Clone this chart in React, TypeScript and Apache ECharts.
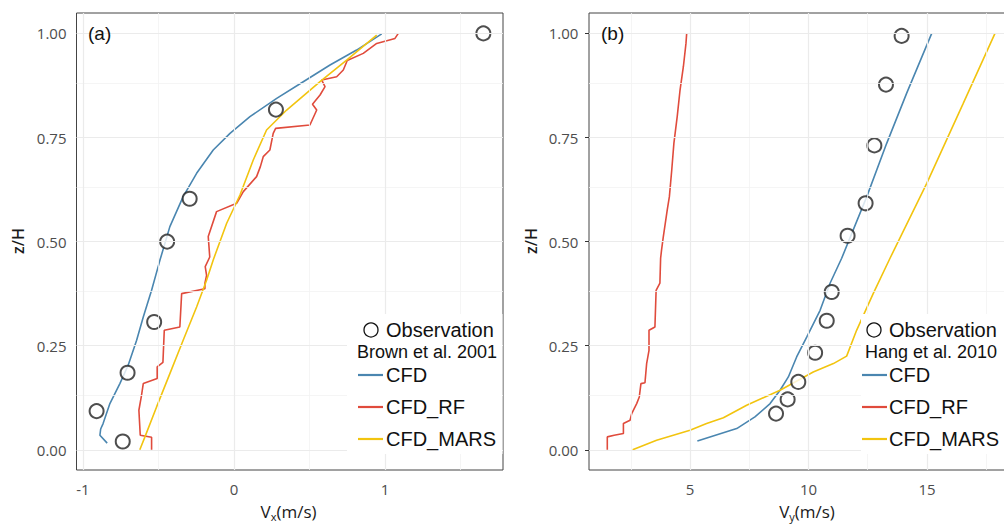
import React, { useEffect, useRef } from 'react';
import * as echarts from 'echarts';

// ---------- Panel (a): Vx ----------
const obsA_x = [-0.736, -0.909, -0.704, -0.528, -0.442, -0.293, 0.278, 1.651];
const obsA_z = [0.020, 0.093, 0.185, 0.307, 0.500, 0.603, 0.817, 1.000];

const cfdA: number[][] = [
  [-0.839, 0.016], [-0.887, 0.035], [-0.882, 0.05], [-0.866, 0.063], [-0.821, 0.111],
  [-0.755, 0.159], [-0.70, 0.203], [-0.644, 0.263], [-0.60, 0.319], [-0.545, 0.383],
  [-0.49, 0.455], [-0.424, 0.536], [-0.336, 0.608], [-0.247, 0.664], [-0.137, 0.72],
  [-0.026, 0.76], [0.106, 0.80], [0.283, 0.844], [0.459, 0.884], [0.636, 0.924],
  [0.812, 0.96], [0.978, 0.999],
];
const rfA: number[][] = [
  [-0.545, 0.0], [-0.545, 0.030], [-0.620, 0.035], [-0.629, 0.095], [-0.612, 0.13],
  [-0.600, 0.159], [-0.508, 0.171], [-0.508, 0.199], [-0.47, 0.21], [-0.461, 0.287],
  [-0.358, 0.295], [-0.346, 0.375], [-0.192, 0.387], [-0.192, 0.400], [-0.181, 0.419],
  [-0.19, 0.44], [-0.16, 0.463], [-0.17, 0.512], [-0.115, 0.572], [0.018, 0.592],
  [0.062, 0.62], [0.15, 0.656], [0.175, 0.68], [0.194, 0.704], [0.238, 0.72],
  [0.26, 0.76], [0.276, 0.772], [0.503, 0.78], [0.548, 0.816], [0.52, 0.83],
  [0.57, 0.852], [0.603, 0.872], [0.581, 0.888], [0.68, 0.896], [0.724, 0.912],
  [0.75, 0.935], [0.856, 0.952], [0.945, 0.976], [1.066, 0.988], [1.088, 1.0],
];
const marsA: number[][] = [
  [-0.623, 0], [-0.589, 0.031], [-0.512, 0.103], [-0.424, 0.183], [-0.336, 0.263],
  [-0.247, 0.343], [-0.181, 0.407], [-0.137, 0.456], [-0.048, 0.544], [0.04, 0.612],
  [0.128, 0.696], [0.216, 0.768], [0.349, 0.816], [0.57, 0.884], [0.746, 0.936],
  [0.945, 0.996],
];

// ---------- Panel (b): Vy ----------
const obsB_x = [8.63, 9.12, 9.57, 10.28, 10.77, 10.98, 11.65, 12.41, 12.78, 13.27, 13.93];
const obsB_z = [0.087, 0.121, 0.163, 0.233, 0.310, 0.379, 0.514, 0.592, 0.731, 0.877, 0.994];

const cfdB: number[][] = [
  [5.31, 0.021], [6.97, 0.051], [7.74, 0.079], [8.38, 0.111], [8.80, 0.143],
  [9.15, 0.175], [9.50, 0.223], [9.93, 0.271], [10.49, 0.335], [10.91, 0.40],
  [11.40, 0.46], [12.46, 0.608], [13.30, 0.736], [14.14, 0.856], [15.20, 1.0],
];
const rfB: number[][] = [
  [1.51, 0.0], [1.51, 0.031], [1.8, 0.035], [2.19, 0.039], [2.19, 0.063],
  [2.47, 0.071], [2.54, 0.087], [2.75, 0.111], [2.86, 0.127], [2.93, 0.159],
  [3.10, 0.161], [3.17, 0.207], [3.27, 0.239], [3.27, 0.287], [3.52, 0.295],
  [3.57, 0.383], [3.73, 0.40], [3.76, 0.46], [3.80, 0.48], [3.87, 0.51],
  [4.04, 0.576], [4.13, 0.608], [4.23, 0.672], [4.32, 0.736], [4.46, 0.80],
  [4.58, 0.864], [4.72, 0.92], [4.83, 0.976], [4.86, 1.0],
];
const marsB: number[][] = [
  [2.58, 0.0], [3.59, 0.023], [5.0, 0.047], [5.70, 0.063], [6.41, 0.077],
  [7.39, 0.107], [8.80, 0.143], [10.2, 0.187], [11.05, 0.207], [11.61, 0.225],
  [12.03, 0.287], [12.73, 0.375], [13.44, 0.46], [14.99, 0.64], [16.53, 0.832],
  [17.87, 1.0],
];

// ---------- Ticks ----------
const yTicks = [0, 0.25, 0.5, 0.75, 1];
const yMinor = [0.125, 0.375, 0.625, 0.875];
const xTicksA = [-1, 0, 1];
const xMinorA = [-0.5, 0.5, 1.5];
const xTicksB = [5, 10, 15];
const xMinorB = [2.5, 7.5, 12.5, 17.5];

const legendItems = ['CFD', 'CFD_RF', 'CFD_MARS'];
const colors = ['#4a86b0', '#e04b3c', '#f2c40f'];

const tickFont = { fontFamily: 'Open Sans', fontSize: 15, color: '#4d4d4d' };

function xAxisCfg(gridIndex: number, min: number, max: number, ticks: number[]) {
  return {
    type: 'value', gridIndex, min, max,
    axisLine: { show: false },
    axisTick: { show: true, length: 4, lineStyle: { color: '#333', width: 1 }, customValues: ticks },
    axisLabel: { ...tickFont, margin: 11.5, customValues: ticks, formatter: (v: number) => String(v) },
    splitLine: { show: false },
  };
}
function yAxisCfg(gridIndex: number, margin: number) {
  return {
    type: 'value', gridIndex, min: -0.0485, max: 1.049,
    axisLine: { show: false },
    axisTick: { show: true, length: 4, lineStyle: { color: '#333', width: 1 }, customValues: yTicks },
    axisLabel: { ...tickFont, margin, customValues: yTicks, formatter: (v: number) => v.toFixed(2) },
    splitLine: { show: false },
  };
}

function gridLines(idx: number, majX: number[], minX: number[]) {
  const major = { color: '#ebebeb', width: 1.2, type: 'solid' };
  const minor = { color: '#f3f3f3', width: 0.8, type: 'solid' };
  return {
    type: 'line', xAxisIndex: idx, yAxisIndex: idx, data: [], z: 1, silent: true,
    markLine: {
      silent: true, symbol: ['none', 'none'], label: { show: false }, animation: false,
      emphasis: { disabled: true },
      data: [
        ...minX.map((v) => ({ xAxis: v, lineStyle: minor })),
        ...yMinor.map((v) => ({ yAxis: v, lineStyle: minor })),
        ...majX.map((v) => ({ xAxis: v, lineStyle: major })),
        ...yTicks.map((v) => ({ yAxis: v, lineStyle: major })),
      ],
    },
  };
}

function lineSeries(idx: number, name: string, data: number[][], color: string) {
  return {
    type: 'line', name, xAxisIndex: idx, yAxisIndex: idx, data, z: 3,
    showSymbol: false, symbol: 'none', smooth: false,
    lineStyle: { color, width: 1.6 }, silent: true,
  };
}
function obsSeries(idx: number, xs: number[], zs: number[]) {
  return {
    type: 'scatter', name: 'Observation', xAxisIndex: idx, yAxisIndex: idx, z: 4,
    data: xs.map((x, i) => [x, zs[i]]),
    symbol: 'emptyCircle', symbolSize: 14,
    itemStyle: { color: '#222', borderWidth: 1.1 }, silent: true,
  };
}

function legendGraphic(boxX: number, boxY: number, boxW: number, boxH: number,
  circX: number, textX: number, lineX: number, refText: string, refX: number) {
  const lf = { fontFamily: 'Liberation Sans', fontSize: 20, fill: '#111', verticalAlign: 'middle', align: 'left' };
  const ys = [375, 407, 439];
  const els: any[] = [
    { type: 'rect', shape: { x: boxX, y: boxY, width: boxW, height: boxH }, style: { fill: '#fff' }, z: 50 },
    { type: 'circle', shape: { cx: circX, cy: 330, r: 7 }, style: { fill: '#fff', stroke: '#111', lineWidth: 1.3 }, z: 51 },
    { type: 'text', x: textX, y: 330, style: { ...lf, text: 'Observation' }, z: 51 },
    { type: 'text', x: refX, y: 352, style: { ...lf, fontSize: 18, text: refText }, z: 51 },
  ];
  legendItems.forEach((name, i) => {
    els.push({ type: 'line', shape: { x1: lineX, y1: ys[i], x2: lineX + 25, y2: ys[i] }, style: { stroke: colors[i], lineWidth: 2.2 }, z: 51 });
    els.push({ type: 'text', x: textX, y: ys[i], style: { ...lf, text: name }, z: 51 });
  });
  return els;
}

function axisTitle(x: number, y: number, sub: string) {
  return {
    type: 'text', x, y, z: 60,
    style: {
      text: `{m|V}{s|${sub}}{m|(m/s)}`,
      align: 'center', verticalAlign: 'middle',
      rich: {
        m: { fontFamily: 'Open Sans', fontSize: 17, fill: '#1a1a1a', color: '#1a1a1a', lineHeight: 18, verticalAlign: 'top' },
        s: { fontFamily: 'Open Sans', fontSize: 11, fill: '#1a1a1a', color: '#1a1a1a', lineHeight: 11, padding: [8, 0, 0, 0], verticalAlign: 'top' },
      },
    },
  };
}

const option: any = {
  animation: false,
  backgroundColor: '#fff',
  grid: [
    { left: 76.5, top: 13, width: 426.5, height: 457, show: true, borderColor: '#444', borderWidth: 1, backgroundColor: 'transparent', containLabel: false },
    { left: 589, top: 13, width: 430.4, height: 457, show: true, borderColor: '#444', borderWidth: 1, backgroundColor: 'transparent', containLabel: false },
  ],
  xAxis: [xAxisCfg(0, -1.042, 1.781, xTicksA), xAxisCfg(1, 0.738, 18.9, xTicksB)],
  yAxis: [yAxisCfg(0, 10), yAxisCfg(1, 10.7)],
  series: [
    gridLines(0, xTicksA, xMinorA),
    gridLines(1, xTicksB, xMinorB),
    lineSeries(0, 'CFD', cfdA, colors[0]),
    lineSeries(0, 'CFD_RF', rfA, colors[1]),
    lineSeries(0, 'CFD_MARS', marsA, colors[2]),
    obsSeries(0, obsA_x, obsA_z),
    lineSeries(1, 'CFD', cfdB, colors[0]),
    lineSeries(1, 'CFD_RF', rfB, colors[1]),
    lineSeries(1, 'CFD_MARS', marsB, colors[2]),
    obsSeries(1, obsB_x, obsB_z),
  ],
  graphic: [
    ...legendGraphic(347, 314, 155.5, 140, 371, 386, 358, 'Brown et al. 2001', 357),
    ...legendGraphic(861, 314, 158, 140, 874, 889, 862, 'Hang et al. 2010', 865),
    { type: 'text', x: 88, y: 33, z: 60, style: { text: '(a)', fontFamily: 'Liberation Sans', fontSize: 19, fill: '#111', verticalAlign: 'middle' } },
    { type: 'text', x: 601, y: 33, z: 60, style: { text: '(b)', fontFamily: 'Liberation Sans', fontSize: 19, fill: '#111', verticalAlign: 'middle' } },
    { type: 'text', x: 17.5, y: 241, rotation: Math.PI / 2, z: 60, style: { text: 'z/H', fontFamily: 'Open Sans', fontSize: 16, fontWeight: 600, fill: '#1a1a1a', align: 'center', verticalAlign: 'middle' } },
    { type: 'text', x: 531, y: 241, rotation: Math.PI / 2, z: 60, style: { text: 'z/H', fontFamily: 'Open Sans', fontSize: 16, fontWeight: 600, fill: '#1a1a1a', align: 'center', verticalAlign: 'middle' } },
    axisTitle(288.5, 512, 'x'),
    axisTitle(807, 512, 'y'),
  ],
};

export default function App() {
  const ref = useRef<HTMLDivElement>(null);
  useEffect(() => {
    const chart = echarts.init(ref.current!, null, { renderer: 'svg' });
    chart.setOption(option);
    return () => chart.dispose();
  }, []);
  return (
    <div style={{ position: 'fixed', left: 0, top: 0, width: 1004, height: 526, overflow: 'hidden', background: '#fff' }}>
      <div ref={ref} style={{ width: 1030, height: 526 }} />
    </div>
  );
}
